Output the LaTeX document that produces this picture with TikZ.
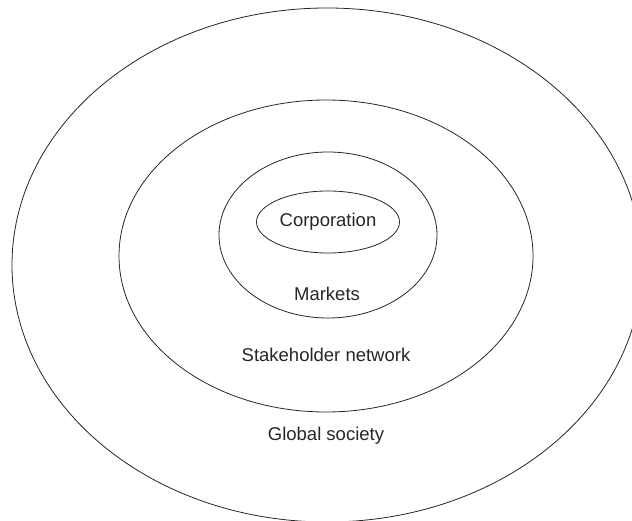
\documentclass[tikz,border=0pt]{standalone}
\usepackage{fontspec}
\setmainfont{Liberation Sans}
\usetikzlibrary{shapes.geometric}
\begin{document}
\begin{tikzpicture}[x=1pt,y=-1pt,
  ring/.style={draw=black!85,line width=0.8pt,ellipse,inner sep=0pt},
  lbl/.style={font=\fontsize{18.5}{20}\selectfont,text=black!85,inner sep=0pt}]
\useasboundingbox (0,0) rectangle (632,521);
\clip (0,0) rectangle (632,521);
\node[ring,minimum width=630pt,minimum height=514pt] (global) at (327,265) {};
\node[ring,minimum width=414pt,minimum height=312pt] (stake) at (326,256) {};
\node[ring,minimum width=218pt,minimum height=166pt] (markets) at (328,235) {};
\node[ring,minimum width=143pt,minimum height=62pt] (corp) at (328,222) {};
\node[lbl] (tcorp) at (328,222) {Corporation};
\node[lbl] (tmark) at (327,294) {Markets};
\node[lbl] (tstake) at (326,355) {Stakeholder network};
\node[lbl] (tglob) at (326,436) {Global society};
\end{tikzpicture}
\end{document}
